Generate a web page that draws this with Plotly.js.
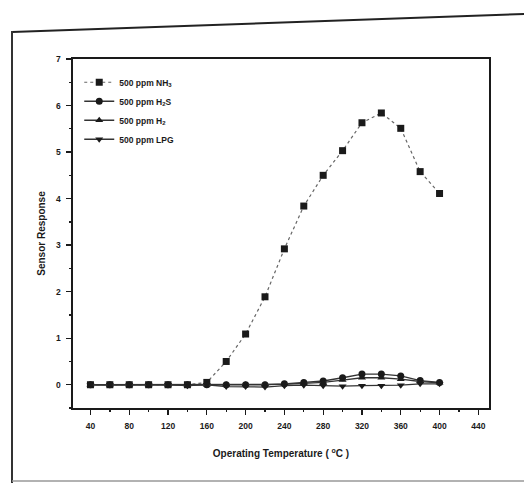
<!DOCTYPE html>
<html>
<head>
<meta charset="utf-8">
<script src="https://cdn.plot.ly/plotly-3.0.1.min.js"></script>
<style>html,body{margin:0;padding:0;background:#fff;}#chart{width:524px;height:483px;}</style>
</head>
<body>
<div id="chart"></div>
<script>
const temperature = [40, 60, 80, 100, 120, 140, 160, 180, 200, 220, 240, 260, 280, 300, 320, 340, 360, 380, 400];
const nh3 = [0, 0, 0, 0, 0, 0, 0.05, 0.5, 1.09, 1.89, 2.92, 3.84, 4.5, 5.03, 5.63, 5.84, 5.51, 4.58, 4.11];
const h2s = [0, 0, 0, 0, 0, 0, 0, 0, 0, 0, 0.02, 0.05, 0.08, 0.15, 0.23, 0.23, 0.19, 0.09, 0.05];
const h2 = [0, 0, 0, 0, 0, 0, 0, 0, 0, 0, 0.01, 0.03, 0.05, 0.1, 0.15, 0.15, 0.12, 0.07, 0.04];
const lpg = [0, 0, 0, 0, 0, -0.02, 0, -0.04, -0.04, -0.05, -0.02, -0.01, -0.02, -0.03, -0.02, -0.02, -0.01, 0.02, 0.02];
const seriesNames = ['500 ppm NH<sub>3</sub>', '500 ppm H<sub>2</sub>S', '500 ppm H<sub>2</sub>', '500 ppm LPG'];
const xTicks = [40, 80, 120, 160, 200, 240, 280, 320, 360, 400, 440];
const yTicks = [0, 1, 2, 3, 4, 5, 6, 7];

const ink = '#1a1a1a';
const fam = 'Liberation Sans, Arial, sans-serif';
function trace(y, name, symbol, dash, lineColor, width) {
  return {
    x: temperature, y: y, name: name, type: 'scatter', mode: 'lines+markers',
    line: {color: lineColor, width: width, dash: dash},
    marker: {symbol: symbol, size: 7, color: ink}
  };
}
const data = [
  trace(nh3, seriesNames[0], 'square', 'dot', '#666', 1.2),
  trace(h2s, seriesNames[1], 'circle', 'solid', '#333', 1.3),
  trace(h2, seriesNames[2], 'triangle-up', 'solid', '#333', 1.3),
  trace(lpg, seriesNames[3], 'triangle-down', 'solid', '#333', 1.3)
];

const W = 524, H = 483, L = 73, R = 35, T = 59, B = 75;
const pw = W - L - R, ph = H - T - B;
function px(x) { return (x - L) / pw; }
function py(y) { return (H - B - y) / ph; }

const layout = {
  width: W, height: H,
  margin: {l: L, r: R, t: T, b: B},
  paper_bgcolor: '#fff', plot_bgcolor: '#fff',
  font: {family: fam, size: 9, color: ink},
  showlegend: true,
  legend: {x: 0.015, y: 0.975, xanchor: 'left', yanchor: 'top', bgcolor: 'rgba(0,0,0,0)',
           font: {family: fam, size: 8.5, color: ink, weight: 'bold'}, itemwidth: 30, tracegroupgap: 0},
  xaxis: {
    range: [22, 451], tickmode: 'array', tickvals: xTicks, ticks: 'outside', ticklen: 5, tickwidth: 1.3,
    tickcolor: ink, showline: true, linecolor: ink, linewidth: 1.6, mirror: true, showgrid: false, zeroline: false,
    ticklabelstandoff: 4,
    tickfont: {family: fam, size: 8.5, color: ink, weight: 'bold'},
    minor: {dtick: 20, ticks: 'outside', ticklen: 2.5, tickcolor: ink},
    title: {text: 'Operating Temperature ( <sup>o</sup>C )', font: {family: fam, size: 10, color: ink, weight: 'bold'}, standoff: 20}
  },
  yaxis: {
    range: [-0.5, 7], tickmode: 'array', tickvals: yTicks, ticks: 'outside', ticklen: 5, tickwidth: 1.3,
    tickcolor: ink, showline: true, linecolor: ink, linewidth: 1.6, mirror: true, showgrid: false, zeroline: false,
    ticklabelstandoff: 4,
    tickfont: {family: fam, size: 8.5, color: ink, weight: 'bold'},
    minor: {dtick: 0.5, ticks: 'outside', ticklen: 2.5, tickcolor: ink},
    title: {text: 'Sensor Response', font: {family: fam, size: 10, color: ink, weight: 'bold'}, standoff: 8}
  },
  shapes: [
    {type: 'line', xref: 'paper', yref: 'paper', x0: px(12), y0: py(32), x1: px(524), y1: py(14), line: {color: '#222', width: 2}},
    {type: 'line', xref: 'paper', yref: 'paper', x0: px(12), y0: py(31), x1: px(12), y1: py(483), line: {color: '#333', width: 2}},
    {type: 'line', xref: 'paper', yref: 'paper', x0: px(12), y0: py(481), x1: px(524), y1: py(481), line: {color: '#999', width: 1.5}}
  ]
};

Plotly.newPlot('chart', data, layout, {displayModeBar: false, staticPlot: true});
</script>
</body>
</html>
